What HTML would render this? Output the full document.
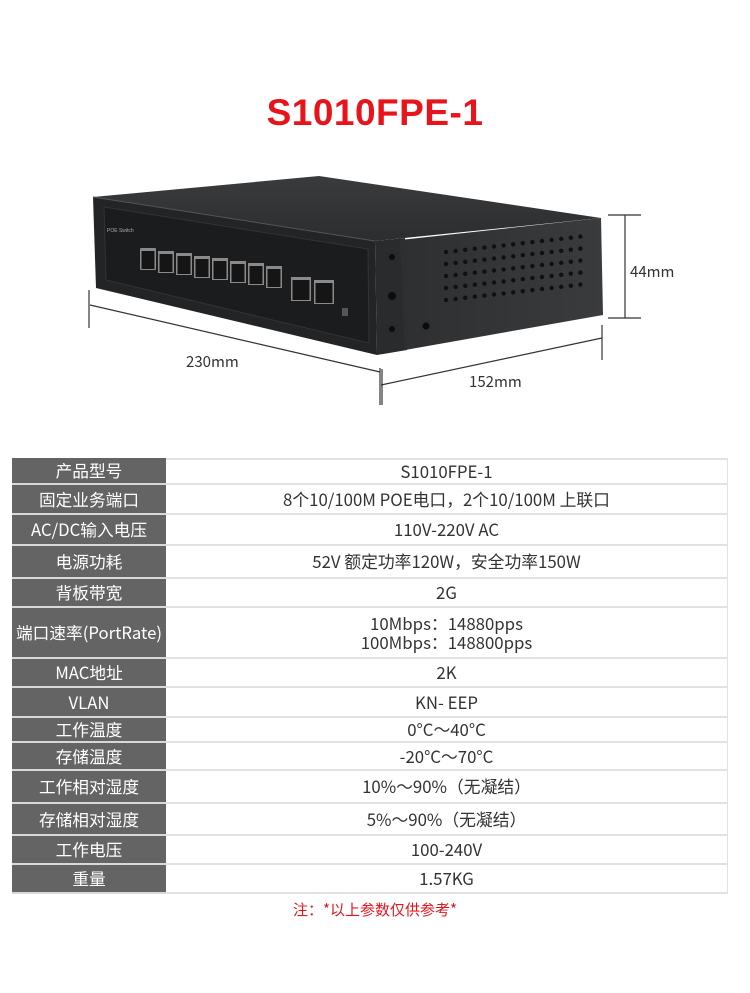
<!DOCTYPE html>
<html><head><meta charset="utf-8">
<style>
body{margin:0;background:#fff;}
#w{position:relative;width:750px;height:993px;overflow:hidden;background:#fff;font-family:"Liberation Sans","Noto Sans CJK SC",sans-serif;}
.t{position:absolute;left:0;width:750px;top:92px;text-align:center;color:#e8141c;font-weight:bold;font-size:37px;letter-spacing:0.5px;}
.lab{position:absolute;font-size:15px;color:#333;font-family:"Noto Sans CJK SC",sans-serif;line-height:18px;}
.l,.r{font-family:"Noto Sans CJK SC","Liberation Sans",sans-serif;line-height:19px;}
.l{position:absolute;left:12px;width:154px;background:#646464;color:#fff;font-size:16.7px;display:flex;align-items:center;justify-content:center;box-sizing:border-box;border-bottom:2px solid #d8d8d8;white-space:nowrap;}
.r{position:absolute;left:166px;width:562px;color:#333;font-size:16.8px;display:flex;align-items:center;justify-content:center;text-align:center;box-sizing:border-box;border-bottom:2px solid #e2e2e2;border-right:1px solid #e2e2e2;}
</style></head><body><div id="w">
<div class="t">S1010FPE-1</div>
<svg width="750" height="440" style="position:absolute;left:0;top:0">
<defs>
<linearGradient id="top" x1="0" y1="0" x2="0" y2="1"><stop offset="0" stop-color="#3a3b3d"/><stop offset="1" stop-color="#2c2d2f"/></linearGradient>
<linearGradient id="side" x1="0" y1="0" x2="1" y2="0"><stop offset="0" stop-color="#2e2f31"/><stop offset="1" stop-color="#3a3b3d"/></linearGradient>
</defs>
<polygon points="93,197 319,176 601,218 375,241" fill="url(#top)"/>
<polygon points="93,197 375,241 377,355 96,288" fill="#232425"/>
<polygon points="104,207 368,249 369,343 106,280" fill="#1b1c1d" stroke="#333" stroke-width="1"/>
<polygon points="375,241 405,238 407,350 377,355" fill="#2a2b2d"/>
<polygon points="400,240 601,218 603,315 405,350" fill="url(#side)"/>
<line x1="93" y1="197" x2="375" y2="241" stroke="#555" stroke-width="1"/>
<g fill="#8a8a8a">
<rect x="140" y="248" width="16" height="22" rx="1"/><rect x="158" y="251" width="16" height="22"/><rect x="176" y="253" width="16" height="22"/><rect x="194" y="256" width="16" height="22"/><rect x="212" y="258" width="16" height="22"/><rect x="230" y="261" width="16" height="22"/><rect x="248" y="263" width="16" height="22"/><rect x="266" y="266" width="16" height="22"/>
<rect x="291" y="277" width="20" height="24"/><rect x="314" y="280" width="20" height="24"/>
</g>
<g fill="#151515">
<rect x="141.5" y="251" width="13" height="18"/><rect x="159.5" y="254" width="13" height="18"/><rect x="177.5" y="256" width="13" height="18"/><rect x="195.5" y="259" width="13" height="18"/><rect x="213.5" y="261" width="13" height="18"/><rect x="231.5" y="264" width="13" height="18"/><rect x="249.5" y="266" width="13" height="18"/><rect x="267.5" y="269" width="13" height="18"/>
<rect x="292.5" y="280" width="17" height="20"/><rect x="315.5" y="283" width="17" height="20"/>
</g>
<text x="107" y="232" font-size="5" fill="#aaa" font-family="Liberation Sans">POE Switch</text>
<rect x="342" y="308" width="6" height="8" fill="#555"/>
<g fill="#0c0c0c"><circle cx="392" cy="257" r="3"/><circle cx="392" cy="296" r="4"/><circle cx="392" cy="329" r="3"/><circle cx="426" cy="326" r="3.5"/></g>
<g fill="#0f1011" id="dots"></g>
<g stroke="#333" stroke-width="1.2" fill="none">
<line x1="89" y1="290" x2="89" y2="328"/>
<line x1="90" y1="305" x2="380" y2="372"/>
<line x1="380" y1="368" x2="380" y2="405"/>
<line x1="382" y1="369" x2="382" y2="405"/>
<line x1="381" y1="385" x2="602" y2="338"/>
<line x1="602" y1="325" x2="602" y2="360"/>
<line x1="625" y1="215" x2="625" y2="318"/>
<line x1="608" y1="215" x2="641" y2="215"/>
<line x1="608" y1="318" x2="641" y2="318"/>
</g>
</svg>
<div class="lab" style="left:186px;top:353px">230mm</div>
<div class="lab" style="left:469px;top:373px">152mm</div>
<div class="lab" style="left:630px;top:263px">44mm</div>
<script>
(function(){var g=document.getElementById('dots'),s='';
for(var r=0;r<5;r++)for(var c=0;c<15;c++){var x=446+c*9.6,y=252+r*12-c*1.1;s+='<circle cx="'+x.toFixed(1)+'" cy="'+y.toFixed(1)+'" r="2.2"/>';}
g.innerHTML=s;})();
</script>
<div class="l" style="top:458px;height:27px">产品型号</div><div class="r" style="top:458px;height:27px;border-top:2px solid #e2e2e2">S1010FPE-1</div>
<div class="l" style="top:485px;height:30px">固定业务端口</div><div class="r" style="top:485px;height:30px">8个10/100M POE电口，2个10/100M 上联口</div>
<div class="l" style="top:515px;height:31px">AC/DC输入电压</div><div class="r" style="top:515px;height:31px">110V-220V AC</div>
<div class="l" style="top:546px;height:33px">电源功耗</div><div class="r" style="top:546px;height:33px">52V 额定功率120W，安全功率150W</div>
<div class="l" style="top:579px;height:29px">背板带宽</div><div class="r" style="top:579px;height:29px">2G</div>
<div class="l" style="top:608px;height:51px">端口速率(PortRate)</div><div class="r" style="top:608px;height:51px">10Mbps：14880pps<br>100Mbps：148800pps</div>
<div class="l" style="top:659px;height:29px">MAC地址</div><div class="r" style="top:659px;height:29px">2K</div>
<div class="l" style="top:688px;height:30px">VLAN</div><div class="r" style="top:688px;height:30px">KN- EEP</div>
<div class="l" style="top:718px;height:25px">工作温度</div><div class="r" style="top:718px;height:25px">0°C～40°C</div>
<div class="l" style="top:743px;height:28px">存储温度</div><div class="r" style="top:743px;height:28px">-20°C～70°C</div>
<div class="l" style="top:771px;height:33px">工作相对湿度</div><div class="r" style="top:771px;height:33px">10%～90%（无凝结）</div>
<div class="l" style="top:804px;height:32px">存储相对湿度</div><div class="r" style="top:804px;height:32px">5%～90%（无凝结）</div>
<div class="l" style="top:836px;height:29px">工作电压</div><div class="r" style="top:836px;height:29px">100-240V</div>
<div class="l" style="top:865px;height:29px">重量</div><div class="r" style="top:865px;height:29px">1.57KG</div>
<div style="position:absolute;left:0;width:750px;top:900px;text-align:center;color:#e8141c;font-size:15px;font-family:'Noto Sans CJK SC',sans-serif;line-height:20px">注：*以上参数仅供参考*</div>
</div></body></html>
